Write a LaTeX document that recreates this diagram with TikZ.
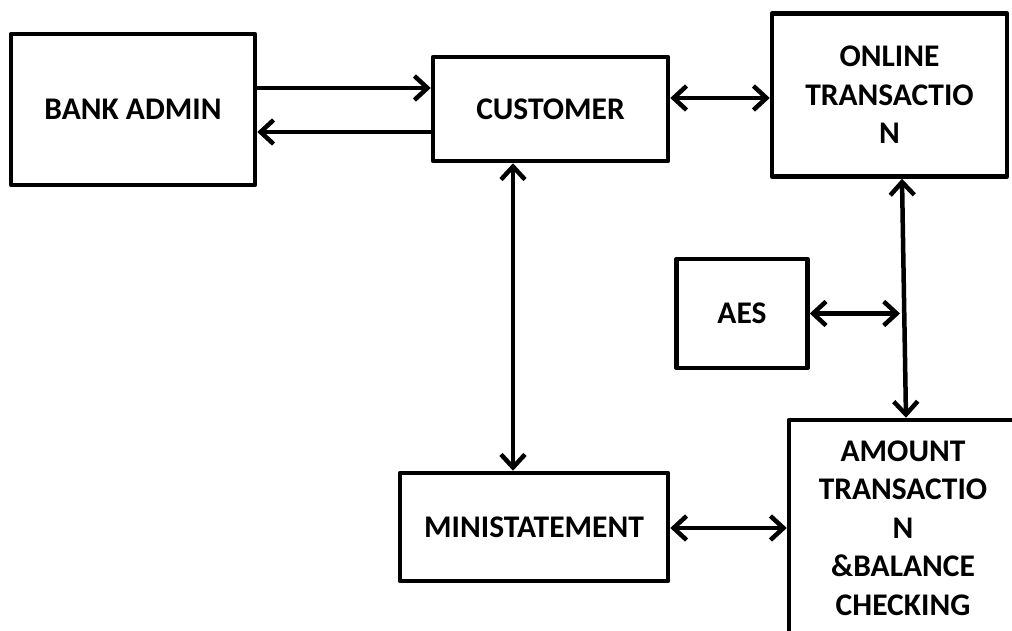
\documentclass[tikz,border=0pt]{standalone}
\usepackage{fontspec}
\setmainfont{Carlito}
\usetikzlibrary{arrows.meta}
\begin{document}
\begin{tikzpicture}[x=1pt,y=-1pt,
  box/.style={draw=black,line width=4.5pt,line join=round,fill=white,inner sep=0pt,
    align=center,font=\fontsize{31.5}{38.5}\selectfont\bfseries},
  tip/.style={},
  link/.style={line width=4.5pt,line cap=round,
    arrows={-Straight Barb[length=13pt,width=24pt,line width=4.5pt]}},
  dlink/.style={line width=4.5pt,line cap=round,
    arrows={Straight Barb[length=13pt,width=24pt,line width=4.5pt]-Straight Barb[length=13pt,width=24pt,line width=4.5pt]}}]
\clip (0,0) rectangle (1012,631);
\fill[white] (0,0) rectangle (1012,631);
\node[box,minimum width=244pt,minimum height=151pt] (admin) at (133,109.5) {BANK ADMIN};
\node[box,minimum width=235pt,minimum height=104pt] (cust) at (550.5,109) {CUSTOMER};
\node[box,minimum width=235pt,minimum height=163pt] (online) at (889.5,95) {ONLINE\\TRANSACTIO\\N};
\node[box,minimum width=131pt,minimum height=109pt] (aes) at (742,313.5) {AES};
\node[box,minimum width=268pt,minimum height=108pt] (mini) at (534,527) {MINISTATEMENT};
\node[box,minimum width=228pt,minimum height=216pt] (amount) at (903,528) {AMOUNT\\TRANSACTIO\\N\\\&BALANCE\\CHECKING};
% connectors
\draw[link] (admin.east |- 0,88) -- (cust.west |- 0,88);
\draw[link] (cust.west |- 0,132) -- (admin.east |- 0,132);
\draw[dlink] (cust.east |- 0,98) -- (online.west |- 0,98);
\draw[dlink] (cust.south -| 513,0) -- (mini.north -| 513,0);
\draw[dlink] (online.south -| 902,0) -- (amount.north -| 906,0);
\coordinate (junc) at (900,313.5);
\draw[dlink] (aes.east) -- (junc);
\draw[dlink] (mini.east |- 0,528) -- (amount.west |- 0,528);
\end{tikzpicture}
\end{document}
